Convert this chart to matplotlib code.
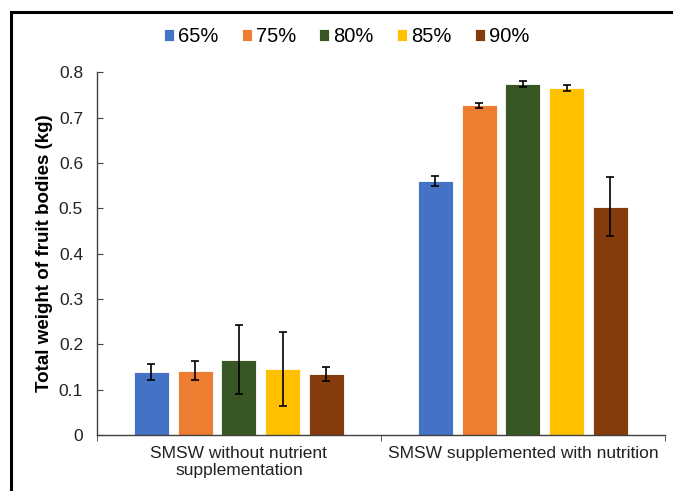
import matplotlib.pyplot as plt
import matplotlib.patches as patches
import numpy as np

plt.rcParams['font.family'] = ['Liberation Sans', 'DejaVu Sans']

# data
groups = ['SMSW without nutrient\nsupplementation', 'SMSW supplemented with nutrition']
moisture = ['65%', '75%', '80%', '85%', '90%']
means = [[0.139, 0.560],
         [0.142, 0.727],
         [0.166, 0.774],
         [0.145, 0.765],
         [0.135, 0.503]]
errs = [[0.018, 0.011],
        [0.021, 0.006],
        [0.076, 0.007],
        [0.082, 0.006],
        [0.016, 0.065]]
colors = ['#4472C4', '#ED7D31', '#375623', '#FFC000', '#843C0C']

fig = plt.figure(figsize=(6.73, 4.91), dpi=100)
ax = fig.add_axes([0.144, 0.114, 0.844, 0.739])

x = np.arange(len(groups))
pitch = 0.154
width = 0.123
for i in range(len(moisture)):
    pos = x + (i - 2) * pitch
    ax.bar(pos, means[i], width, color=colors[i], edgecolor='white', linewidth=0.6,
           label=moisture[i], zorder=2)
    ax.errorbar(pos, means[i], yerr=errs[i], fmt='none', ecolor='black',
                elinewidth=1.2, capsize=3, capthick=1.2, zorder=3)

ax.set_xlim(-0.5, 1.5)
ax.set_ylim(0, 0.8)
ax.set_yticks(np.arange(0, 0.81, 0.1))
ax.set_yticklabels(['0'] + ['%.1f' % v for v in np.arange(0.1, 0.81, 0.1)])
ax.set_xticks(x)
ax.set_xticklabels(groups, fontsize=12.5, color='#222222', linespacing=1.15)
ax.set_xticks([-0.5, 0.5, 1.5], minor=True)
ax.tick_params(axis='x', which='major', length=0, pad=8)
ax.tick_params(axis='x', which='minor', length=4, direction='out', color='#404040')
ax.tick_params(axis='y', direction='in', length=4, labelsize=12.5, color='#404040',
               labelcolor='#222222', pad=10)
for s in ['top', 'right']:
    ax.spines[s].set_visible(False)
for s in ['left', 'bottom']:
    ax.spines[s].set_color('#404040')
    ax.spines[s].set_linewidth(1.0)

ax.set_ylabel('Total weight of fruit bodies (kg)', fontsize=13.5, fontweight='bold', labelpad=4)

fig.legend(loc='center', bbox_to_anchor=(0.515, 0.925), ncol=5, frameon=False,
           fontsize=14.5, handlelength=0.5, handleheight=0.5, handletextpad=0.2,
           columnspacing=1.15)

# outer frame
fig.patches.append(patches.Rectangle((0.0163, -0.1), 1.2, 1.0756, transform=fig.transFigure,
                                     fill=False, edgecolor='black', linewidth=2.2))

fig.savefig('out.png', dpi=100)
